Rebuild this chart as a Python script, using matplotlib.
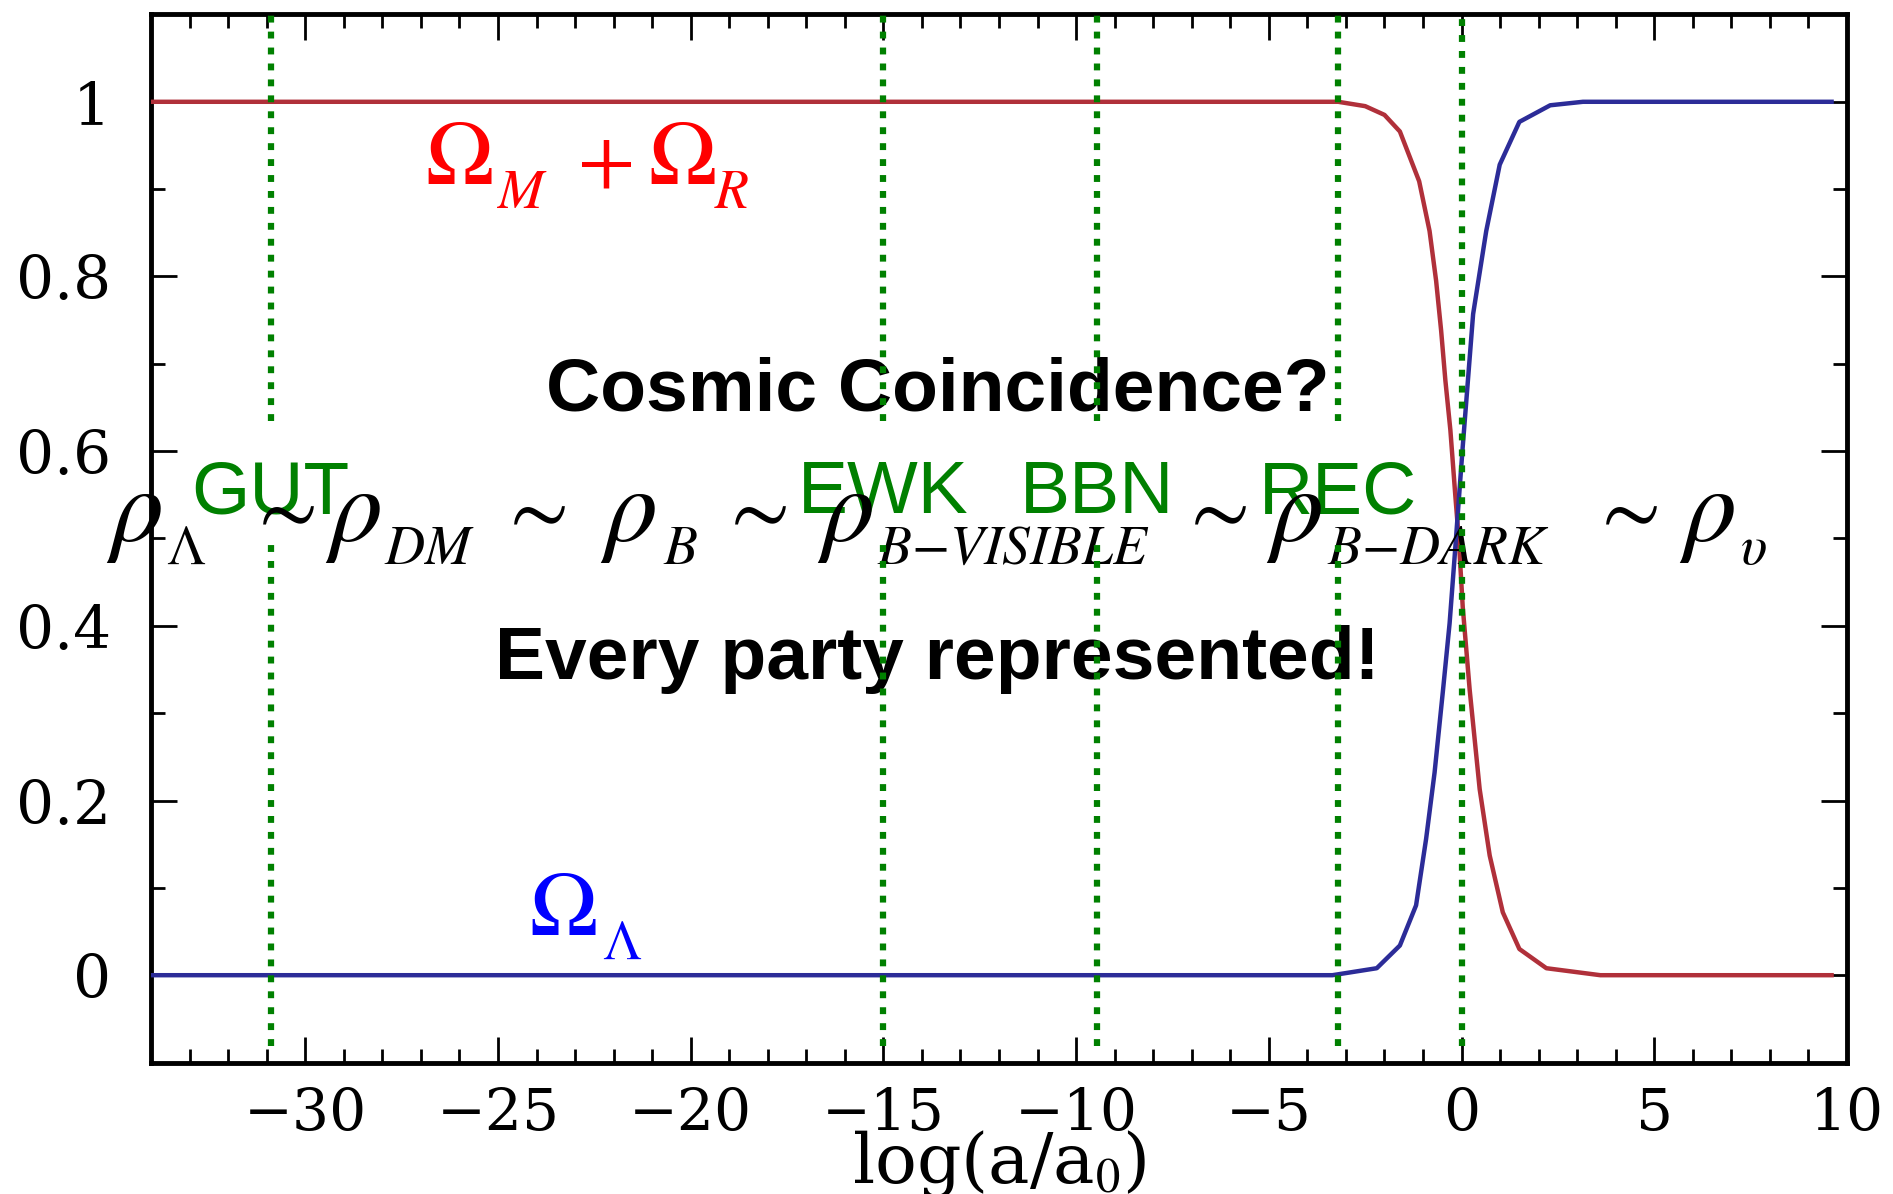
import matplotlib
matplotlib.use("Agg")

import matplotlib.pyplot as plt
from matplotlib.ticker import FixedLocator, FixedFormatter, MultipleLocator

plt.rcParams["mathtext.fontset"] = "stix"
plt.rcParams["font.family"] = ["Liberation Sans", "DejaVu Sans"]

# Omega_M + Omega_R (red)
log_a_matter = [-34, -3.2, -2.5, -2.0, -1.6, -1.1, -0.83, -0.66, -0.53, -0.42,
                -0.29, -0.16, -0.07, 0.03, 0.21, 0.47, 0.73, 1.07, 1.5, 2.2, 3.6, 9.6]
omega_matter = [1.0, 1.0, 0.995, 0.985, 0.966, 0.909, 0.852, 0.795, 0.738, 0.681,
                0.624, 0.548, 0.498, 0.422, 0.327, 0.213, 0.137, 0.072, 0.030, 0.008, 0.0, 0.0]

# Omega_Lambda (blue)
log_a_lambda = [-34, -3.35, -2.2, -1.6, -1.18, -0.92, -0.70, -0.48, -0.31, -0.18,
                0.03, 0.30, 0.64, 0.99, 1.5, 2.3, 3.15, 9.6]
omega_lambda = [0.0, 0.0, 0.008, 0.034, 0.080, 0.156, 0.232, 0.327, 0.403, 0.479,
                0.605, 0.757, 0.852, 0.928, 0.977, 0.996, 1.0, 1.0]

# epochs marked by dotted lines
epoch_names = ["GUT", "EWK", "BBN", "REC"]
epoch_log_a = [-30.9, -15.0, -9.45, -3.2]
today_log_a = 0.0

# the density chain: rho symbols, their subscripts and the tildes between
rho_subs = [r"\Lambda", "DM", "B", "B{-}VISIBLE", "B{-}DARK", r"\upsilon"]
rho_x = [-35.17, -29.49, -22.34, -16.72, -5.08, 5.65]
sub_x = [-33.61, -27.96, -20.71, -15.16, -3.48, 7.22]
tilde_x = [-30.63, -24.13, -18.39, -6.46, 4.2]

x_major = [-30, -25, -20, -15, -10, -5, 0, 5, 10]
y_major = [0, 0.2, 0.4, 0.6, 0.8, 1]
y_labels = ["0", "0.2", "0.4", "0.6", "0.8", "1"]

GREEN = "#008000"
RED_LINE = "#b0303a"
BLUE_LINE = "#2c2c98"
BIG = 66     # Omega symbols
SMALL = 40   # subscripts
RHO = 76

fig = plt.figure(figsize=(18.93, 11.94), dpi=100)
ax = fig.add_axes([0.0798, 0.1101, 0.8959, 0.8778])

ax.plot(log_a_matter, omega_matter, color=RED_LINE, lw=3.2, zorder=3)
ax.plot(log_a_lambda, omega_lambda, color=BLUE_LINE, lw=3.2, zorder=3)

dots = (0, (1.1, 1.45))
for x in epoch_log_a:
    ax.plot([x, x], [-0.081, 0.494], color=GREEN, lw=4.5, ls=dots, zorder=5)
    ax.plot([x, x], [0.634, 1.1], color=GREEN, lw=4.5, ls=dots, zorder=5, clip_on=False)
ax.plot([today_log_a] * 2, [-0.081, 1.1], color=GREEN, lw=4.5, ls=dots, zorder=5)

for name, x in zip(epoch_names, epoch_log_a):
    ax.text(x, 0.529, name, color=GREEN, fontsize=54, ha="center", va="baseline", zorder=3)

ax.text(-13.6, 0.646, "Cosmic Coincidence?", fontsize=54, fontweight="bold",
        ha="center", va="baseline", zorder=4)
ax.text(-13.6, 0.339, "Every party represented!", fontsize=54, fontweight="bold",
        ha="center", va="baseline", zorder=4)

for x in rho_x:
    ax.text(x, 0.497, r"$\rho$", fontsize=RHO, ha="left", va="baseline", zorder=4, clip_on=False)
for x, s in zip(sub_x, rho_subs):
    ax.text(x, 0.471, "$" + s + "$", fontsize=SMALL, ha="left", va="baseline", zorder=4)
for x in tilde_x:
    ax.text(x, 0.503, r"$\sim$", fontsize=62, ha="center", va="baseline", zorder=4)

# Omega_M + Omega_R label
ax.text(-26.90, 0.9055, r"$\Omega$", color="red", fontsize=BIG, ha="left", va="baseline")
ax.text(-25.05, 0.878, "$M$", color="red", fontsize=SMALL, ha="left", va="baseline")
ax.text(-22.95, 0.9055, "$+$", color="red", fontsize=60, ha="left", va="baseline")
ax.text(-21.10, 0.9055, r"$\Omega$", color="red", fontsize=BIG, ha="left", va="baseline")
ax.text(-19.40, 0.878, "$R$", color="red", fontsize=SMALL, ha="left", va="baseline")

# Omega_Lambda label
ax.text(-24.2, 0.046, r"$\Omega$", color="blue", fontsize=BIG, ha="left", va="baseline")
ax.text(-22.3, 0.019, r"$\Lambda$", color="blue", fontsize=SMALL, ha="left", va="baseline")

ax.set_xlim(-34, 10)
ax.set_ylim(-0.1, 1.1)

ax.xaxis.set_major_locator(FixedLocator(x_major))
ax.xaxis.set_minor_locator(MultipleLocator(1))
ax.yaxis.set_major_locator(FixedLocator(y_major))
ax.yaxis.set_major_formatter(FixedFormatter(y_labels))
ax.yaxis.set_minor_locator(MultipleLocator(0.1))

ax.tick_params(which="both", direction="in", top=True, right=True, width=2, color="black")
ax.tick_params(which="major", length=19)
ax.tick_params(which="minor", length=10)
ax.tick_params(axis="x", which="major", labelsize=42, pad=17)
ax.tick_params(axis="y", which="major", labelsize=43, pad=29)
for lab in ax.get_xticklabels() + ax.get_yticklabels():
    lab.set_family("DejaVu Serif")
for s in ax.spines.values():
    s.set_linewidth(3.5)

ax.set_xlabel(r"log(a/a$_0$)", fontsize=50, family="DejaVu Serif")
ax.xaxis.set_label_coords(0.5, -0.062)

fig.savefig("out.png", dpi=100, facecolor="white")
